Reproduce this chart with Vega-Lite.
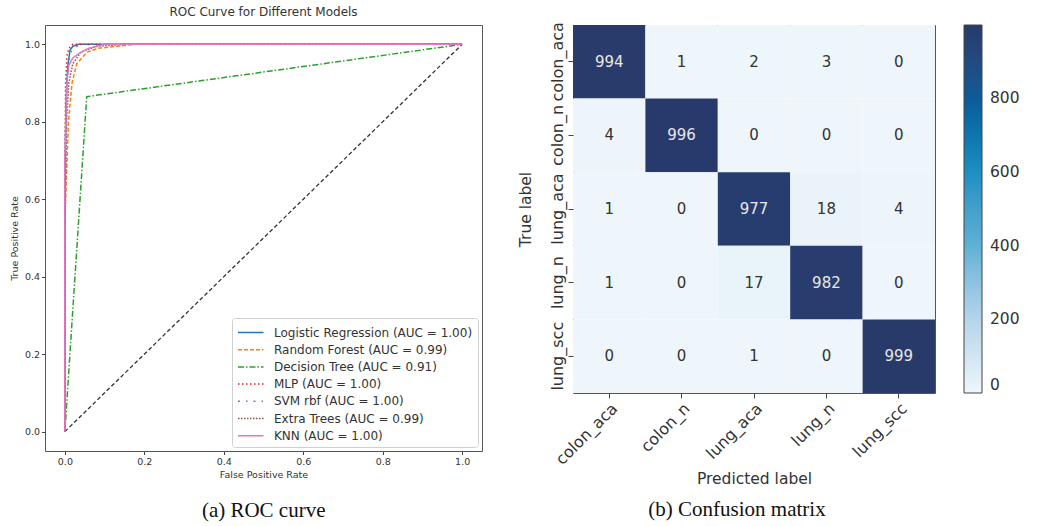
{
  "$schema": "https://vega.github.io/schema/vega-lite/v6.json",
  "padding": {"left": 8, "top": 5, "right": 4, "bottom": 4},
  "background": "white",
  "config": {
    "font": "DejaVu Sans",
    "view": {"stroke": "#555", "strokeWidth": 1},
    "axis": {"domain": false, "grid": false, "tickColor": "#444", "labelColor": "#333", "titleColor": "#333", "titleFontWeight": "normal"},
    "concat": {"spacing": 34}
  },
  "resolve": {"scale": {"color": "independent", "strokeDash": "independent"}, "legend": {"color": "independent", "strokeDash": "independent"}},
  "hconcat": [
    {
      "title": {"text": "(a) ROC curve", "orient": "bottom", "anchor": "middle", "dx": 18, "font": "Liberation Serif", "fontSize": 21, "fontWeight": "normal", "color": "#111", "offset": 21},
      "resolve": {"scale": {"color": "independent", "strokeDash": "independent"}, "legend": {"color": "independent", "strokeDash": "independent"}},
      "vconcat": [
        {
          "width": 437,
          "height": 426,
          "title": {"text": "ROC Curve for Different Models", "fontSize": 12, "fontWeight": "normal", "color": "#333", "offset": 6},
          "layer": [
            {
              "data": {"values": [
                {"x": 0, "y": 0}, {"x": 1, "y": 1}
              ]},
              "mark": {"type": "line", "color": "#333", "strokeDash": [4, 2.5], "strokeWidth": 1.3},
              "encoding": {
                "x": {"field": "x", "type": "quantitative", "scale": {"domain": [-0.05, 1.05], "nice": false, "zero": false}},
                "y": {"field": "y", "type": "quantitative", "scale": {"domain": [-0.05, 1.05], "nice": false, "zero": false}}
              }
            },
            {
              "data": {"values": [
                {"model": "Logistic Regression (AUC = 1.00)", "i": 0, "fpr": 0, "tpr": 0},
                {"model": "Logistic Regression (AUC = 1.00)", "i": 1, "fpr": 0, "tpr": 0.5},
                {"model": "Logistic Regression (AUC = 1.00)", "i": 2, "fpr": 0.002, "tpr": 0.8},
                {"model": "Logistic Regression (AUC = 1.00)", "i": 3, "fpr": 0.005, "tpr": 0.9},
                {"model": "Logistic Regression (AUC = 1.00)", "i": 4, "fpr": 0.008, "tpr": 0.95},
                {"model": "Logistic Regression (AUC = 1.00)", "i": 5, "fpr": 0.013, "tpr": 0.985},
                {"model": "Logistic Regression (AUC = 1.00)", "i": 6, "fpr": 0.02, "tpr": 0.995},
                {"model": "Logistic Regression (AUC = 1.00)", "i": 7, "fpr": 0.035, "tpr": 1.0},
                {"model": "Logistic Regression (AUC = 1.00)", "i": 8, "fpr": 1, "tpr": 1.0},
                {"model": "Random Forest (AUC = 0.99)", "i": 0, "fpr": 0, "tpr": 0},
                {"model": "Random Forest (AUC = 0.99)", "i": 1, "fpr": 0, "tpr": 0.55},
                {"model": "Random Forest (AUC = 0.99)", "i": 2, "fpr": 0.009, "tpr": 0.8},
                {"model": "Random Forest (AUC = 0.99)", "i": 3, "fpr": 0.018, "tpr": 0.9},
                {"model": "Random Forest (AUC = 0.99)", "i": 4, "fpr": 0.03, "tpr": 0.95},
                {"model": "Random Forest (AUC = 0.99)", "i": 5, "fpr": 0.056, "tpr": 0.98},
                {"model": "Random Forest (AUC = 0.99)", "i": 6, "fpr": 0.085, "tpr": 0.99},
                {"model": "Random Forest (AUC = 0.99)", "i": 7, "fpr": 0.177, "tpr": 1.0},
                {"model": "Random Forest (AUC = 0.99)", "i": 8, "fpr": 1, "tpr": 1.0},
                {"model": "Decision Tree (AUC = 0.91)", "i": 0, "fpr": 0, "tpr": 0},
                {"model": "Decision Tree (AUC = 0.91)", "i": 1, "fpr": 0.055, "tpr": 0.865},
                {"model": "Decision Tree (AUC = 0.91)", "i": 2, "fpr": 1, "tpr": 1.0},
                {"model": "MLP (AUC = 1.00)", "i": 0, "fpr": 0, "tpr": 0},
                {"model": "MLP (AUC = 1.00)", "i": 1, "fpr": 0, "tpr": 0.7},
                {"model": "MLP (AUC = 1.00)", "i": 2, "fpr": 0.002, "tpr": 0.9},
                {"model": "MLP (AUC = 1.00)", "i": 3, "fpr": 0.005, "tpr": 0.97},
                {"model": "MLP (AUC = 1.00)", "i": 4, "fpr": 0.01, "tpr": 0.99},
                {"model": "MLP (AUC = 1.00)", "i": 5, "fpr": 0.02, "tpr": 1.0},
                {"model": "MLP (AUC = 1.00)", "i": 6, "fpr": 1, "tpr": 1.0},
                {"model": "SVM rbf (AUC = 1.00)", "i": 0, "fpr": 0, "tpr": 0},
                {"model": "SVM rbf (AUC = 1.00)", "i": 1, "fpr": 0, "tpr": 0.6},
                {"model": "SVM rbf (AUC = 1.00)", "i": 2, "fpr": 0.003, "tpr": 0.88},
                {"model": "SVM rbf (AUC = 1.00)", "i": 3, "fpr": 0.008, "tpr": 0.95},
                {"model": "SVM rbf (AUC = 1.00)", "i": 4, "fpr": 0.015, "tpr": 0.98},
                {"model": "SVM rbf (AUC = 1.00)", "i": 5, "fpr": 0.03, "tpr": 0.995},
                {"model": "SVM rbf (AUC = 1.00)", "i": 6, "fpr": 0.05, "tpr": 1.0},
                {"model": "SVM rbf (AUC = 1.00)", "i": 7, "fpr": 1, "tpr": 1.0},
                {"model": "Extra Trees (AUC = 0.99)", "i": 0, "fpr": 0, "tpr": 0},
                {"model": "Extra Trees (AUC = 0.99)", "i": 1, "fpr": 0, "tpr": 0.5},
                {"model": "Extra Trees (AUC = 0.99)", "i": 2, "fpr": 0.004, "tpr": 0.8},
                {"model": "Extra Trees (AUC = 0.99)", "i": 3, "fpr": 0.01, "tpr": 0.9},
                {"model": "Extra Trees (AUC = 0.99)", "i": 4, "fpr": 0.02, "tpr": 0.95},
                {"model": "Extra Trees (AUC = 0.99)", "i": 5, "fpr": 0.04, "tpr": 0.98},
                {"model": "Extra Trees (AUC = 0.99)", "i": 6, "fpr": 0.08, "tpr": 0.995},
                {"model": "Extra Trees (AUC = 0.99)", "i": 7, "fpr": 0.15, "tpr": 1.0},
                {"model": "Extra Trees (AUC = 0.99)", "i": 8, "fpr": 1, "tpr": 1.0},
                {"model": "KNN (AUC = 1.00)", "i": 0, "fpr": 0, "tpr": 0},
                {"model": "KNN (AUC = 1.00)", "i": 1, "fpr": 0, "tpr": 0.7},
                {"model": "KNN (AUC = 1.00)", "i": 2, "fpr": 0.005, "tpr": 0.9},
                {"model": "KNN (AUC = 1.00)", "i": 3, "fpr": 0.01, "tpr": 0.946},
                {"model": "KNN (AUC = 1.00)", "i": 4, "fpr": 0.02, "tpr": 0.965},
                {"model": "KNN (AUC = 1.00)", "i": 5, "fpr": 0.035, "tpr": 0.976},
                {"model": "KNN (AUC = 1.00)", "i": 6, "fpr": 0.06, "tpr": 0.99},
                {"model": "KNN (AUC = 1.00)", "i": 7, "fpr": 0.1, "tpr": 1.0},
                {"model": "KNN (AUC = 1.00)", "i": 8, "fpr": 1, "tpr": 1.0}
              ]},
              "mark": {"type": "line", "strokeWidth": 1.5},
              "encoding": {
                "x": {"field": "fpr", "type": "quantitative", "title": "False Positive Rate",
                      "scale": {"domain": [-0.05, 1.05], "nice": false, "zero": false},
                      "axis": {"values": [0, 0.2, 0.4, 0.6, 0.8, 1.0], "format": ".1f", "labelFontSize": 9.5, "titleFontSize": 9.5, "tickSize": 3.5, "titlePadding": 3}},
                "y": {"field": "tpr", "type": "quantitative", "title": "True Positive Rate",
                      "scale": {"domain": [-0.05, 1.05], "nice": false, "zero": false},
                      "axis": {"values": [0, 0.2, 0.4, 0.6, 0.8, 1.0], "format": ".1f", "labelFontSize": 9.5, "titleFontSize": 9.5, "tickSize": 3.5, "titlePadding": 5}},
                "order": {"field": "i", "type": "quantitative"},
                "color": {"field": "model", "type": "nominal", "title": null,
                  "scale": {
                    "domain": ["Logistic Regression (AUC = 1.00)", "Random Forest (AUC = 0.99)", "Decision Tree (AUC = 0.91)", "MLP (AUC = 1.00)", "SVM rbf (AUC = 1.00)", "Extra Trees (AUC = 0.99)", "KNN (AUC = 1.00)"],
                    "range": ["#1f77b4", "#ff7f0e", "#2ca02c", "#d62728", "#9467bd", "#8c564b", "#e377c2"]
                  },
                  "legend": {"orient": "bottom-right", "offset": 4, "symbolType": "M-1,0H2", "symbolSize": 289, "symbolStrokeWidth": 1.5, "labelFontSize": 12, "labelColor": "#333", "labelOffset": 18, "rowPadding": 1.2, "padding": 5, "strokeColor": "#d0d0d0", "fillColor": "white", "cornerRadius": 3, "labelLimit": 300}},
                "strokeDash": {"field": "model", "type": "nominal", "title": null,
                  "scale": {
                    "domain": ["Logistic Regression (AUC = 1.00)", "Random Forest (AUC = 0.99)", "Decision Tree (AUC = 0.91)", "MLP (AUC = 1.00)", "SVM rbf (AUC = 1.00)", "Extra Trees (AUC = 0.99)", "KNN (AUC = 1.00)"],
                    "range": [[1, 0], [4, 2], [6, 2, 1.5, 2], [1.5, 2.5], [2, 6, 1.5, 6], [1.5, 1.5], [1, 0]]
                  }}
              }
            }
          ]
        }
      ]
    },
    {
      "title": {"text": "(b) Confusion matrix", "orient": "bottom", "anchor": "middle", "dx": -32, "font": "Liberation Serif", "fontSize": 21, "fontWeight": "normal", "color": "#111", "offset": 12},
      "resolve": {"scale": {"color": "independent"}, "legend": {"color": "independent"}},
      "vconcat": [
        {
          "width": 362,
          "height": 368,
          "data": {"values": [
            {"truth": "colon_aca", "pred": "colon_aca", "count": 994},
            {"truth": "colon_aca", "pred": "colon_n", "count": 1},
            {"truth": "colon_aca", "pred": "lung_aca", "count": 2},
            {"truth": "colon_aca", "pred": "lung_n", "count": 3},
            {"truth": "colon_aca", "pred": "lung_scc", "count": 0},
            {"truth": "colon_n", "pred": "colon_aca", "count": 4},
            {"truth": "colon_n", "pred": "colon_n", "count": 996},
            {"truth": "colon_n", "pred": "lung_aca", "count": 0},
            {"truth": "colon_n", "pred": "lung_n", "count": 0},
            {"truth": "colon_n", "pred": "lung_scc", "count": 0},
            {"truth": "lung_aca", "pred": "colon_aca", "count": 1},
            {"truth": "lung_aca", "pred": "colon_n", "count": 0},
            {"truth": "lung_aca", "pred": "lung_aca", "count": 977},
            {"truth": "lung_aca", "pred": "lung_n", "count": 18},
            {"truth": "lung_aca", "pred": "lung_scc", "count": 4},
            {"truth": "lung_n", "pred": "colon_aca", "count": 1},
            {"truth": "lung_n", "pred": "colon_n", "count": 0},
            {"truth": "lung_n", "pred": "lung_aca", "count": 17},
            {"truth": "lung_n", "pred": "lung_n", "count": 982},
            {"truth": "lung_n", "pred": "lung_scc", "count": 0},
            {"truth": "lung_scc", "pred": "colon_aca", "count": 0},
            {"truth": "lung_scc", "pred": "colon_n", "count": 0},
            {"truth": "lung_scc", "pred": "lung_aca", "count": 1},
            {"truth": "lung_scc", "pred": "lung_n", "count": 0},
            {"truth": "lung_scc", "pred": "lung_scc", "count": 999}
          ]},
          "encoding": {
            "x": {"field": "pred", "type": "nominal", "title": "Predicted label",
                  "sort": ["colon_aca", "colon_n", "lung_aca", "lung_n", "lung_scc"],
                  "scale": {"paddingInner": 0, "paddingOuter": 0},
                  "axis": {"labelAngle": -45, "labelAlign": "right", "labelBaseline": "top", "labelFontSize": 16, "titleFontSize": 15.5, "tickSize": 5, "labelPadding": 2, "titlePadding": 4}},
            "y": {"field": "truth", "type": "nominal", "title": "True label",
                  "sort": ["colon_aca", "colon_n", "lung_aca", "lung_n", "lung_scc"],
                  "scale": {"paddingInner": 0, "paddingOuter": 0},
                  "axis": {"labelAngle": -90, "labelAlign": "center", "labelBaseline": "bottom", "labelFontSize": 16, "titleFontSize": 15.5, "tickSize": 5, "labelPadding": 3, "titlePadding": 16}}
          },
          "layer": [
            {
              "mark": {"type": "rect"},
              "encoding": {
                "color": {"field": "count", "type": "quantitative", "title": null,
                  "scale": {"domain": [0, 200, 400, 600, 800, 999], "range": ["#eef6fb", "#b4d5ea", "#5fb1d6", "#1d8fc1", "#0b5b98", "#283a6a"]},
                  "legend": {"orient": "right", "direction": "vertical", "gradientLength": 368, "gradientThickness": 18, "values": [0, 200, 400, 600, 800], "labelFontSize": 15.5, "labelColor": "#333", "offset": 29, "gradientStrokeColor": "#444", "gradientStrokeWidth": 1, "labelOffset": 8, "tickCount": 5}}
              }
            },
            {
              "mark": {"type": "text", "fontSize": 15},
              "encoding": {
                "text": {"field": "count", "type": "quantitative"},
                "color": {"condition": {"test": "datum.count > 500", "value": "#e8e8e8"}, "value": "#333"}
              }
            }
          ]
        }
      ]
    }
  ]
}
